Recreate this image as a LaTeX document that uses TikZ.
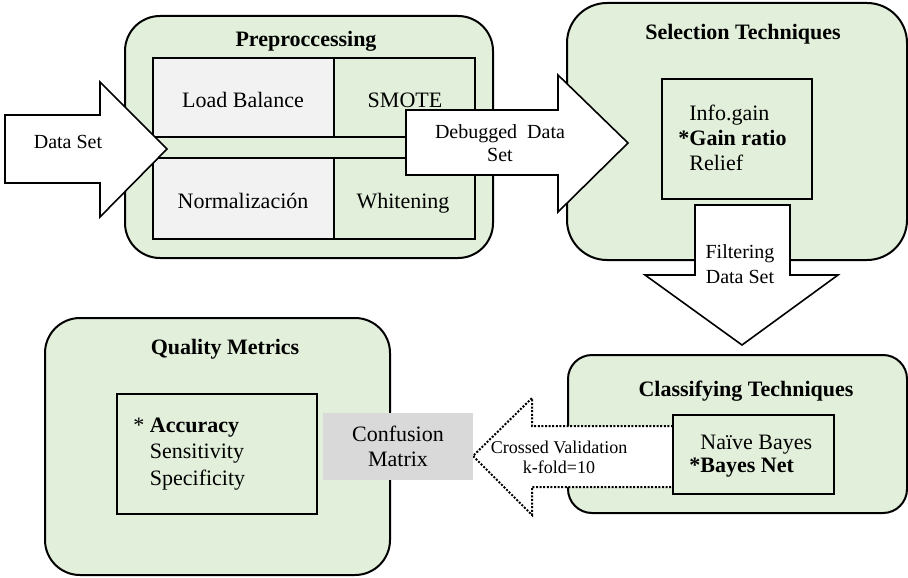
\documentclass[tikz,border=0pt]{standalone}
\usepackage{fontspec}
\setmainfont{Liberation Serif}
\definecolor{panelgreen}{HTML}{E2EFDA}
\definecolor{cellgray}{HTML}{F2F2F2}
\definecolor{matrixgray}{HTML}{D9D9D9}
\tikzset{
	panel/.style={draw,line width=1pt,fill=panelgreen},
	innerbox/.style={draw,line width=0.6pt,fill=panelgreen},
	blockarrow/.style={draw,line width=0.8pt,fill=white,line join=miter},
	paneltitle/.style={font=\fontsize{11}{13}\selectfont\bfseries,text height=7.5pt,text depth=2.5pt},
	celltext/.style={font=\fontsize{11}{13}\selectfont,text height=7.5pt,text depth=2.5pt},
	listtext/.style={anchor=west,align=left,inner sep=0pt},
	arrowtext/.style={font=\fontsize{10}{11.5}\selectfont,align=center}
}
\begin{document}
\begin{tikzpicture}[x=0.5pt,y=-0.5pt]
	\useasboundingbox (0,0) rectangle (908,577);

	\draw [panel,rounded corners=17.5pt] (125,16) rectangle (493,258);
	\fill [cellgray] (153,58) rectangle (334,137);
	\fill [cellgray] (153,158) rectangle (334,239);
	\draw [line width=0.6pt] (153,58) rectangle (475,239);
	\draw [line width=0.6pt] (153,137) -- (475,137);
	\draw [line width=0.6pt] (153,158) -- (475,158);
	\draw [line width=0.6pt] (334,58) -- (334,137);
	\draw [line width=0.6pt] (334,158) -- (334,239);
	\node (pretitle) [paneltitle] at (306,42) {Preproccessing};
	\begin{scope}[every node/.style={celltext}]
	\node (load) at (243,103) {Load Balance};
	\node (smote) at (405,103) {SMOTE};
	\node (norm) at (243,203) {Normalización};
	\node (whiten) at (403,203) {Whitening};
	\end{scope}

	\draw [blockarrow] (5,115) -- (100,115) -- (100,82) -- (167,149) -- (100,217) -- (100,183) -- (5,183) -- cycle;
	\node (dataset) [arrowtext] at (68,142) {Data Set};

	\draw [panel,rounded corners=20pt] (567,3) rectangle (907,260);
	\draw [innerbox] (662,79) rectangle (812,199);
	\node (seltitle) [paneltitle] at (743,35) {Selection Techniques};
	\node (selitems) [listtext,font=\fontsize{11}{12.5}\selectfont] at (678,138)
		{\phantom{\textbf{*}}Info.gain\\\textbf{*Gain ratio}\\\phantom{\textbf{*}}Relief};

	\draw [blockarrow] (406,110) -- (558,110) -- (558,75) -- (628,143) -- (558,212) -- (558,175) -- (406,175) -- cycle;
	\node (debugged) [arrowtext] at (500,143) {Debugged\ \ Data\\Set};

	\draw [blockarrow] (695,205) -- (790,205) -- (790,275) -- (838,275) -- (742,345) -- (645,275) -- (695,275) -- cycle;
	\node (filtering) [arrowtext,font=\fontsize{10}{12.5}\selectfont] at (740,264) {Filtering\\Data Set};

	\draw [panel,rounded corners=12pt] (568,355) rectangle (907,513);
	\node (clatitle) [paneltitle] at (746,391) {Classifying Techniques};
	\draw [blockarrow,line width=1pt,dash pattern=on 1pt off 0.8pt] (673,426) -- (532,426) -- (532,398) -- (473,456) -- (532,515) -- (532,487) -- (673,487) -- cycle;
	\node (crossed) [arrowtext,font=\fontsize{9}{10}\selectfont] at (559,457) {Crossed Validation\\k-fold=10};
	\draw [innerbox] (673,415) rectangle (834,494);
	\node (claitems) [listtext,font=\fontsize{11}{11.5}\selectfont] at (689,456)
		{\hspace{5.5pt}Naïve Bayes\\\textbf{*Bayes Net}};

	\draw [panel,rounded corners=17.5pt] (45,318) rectangle (390,575);
	\draw [innerbox] (117,394) rectangle (317,514);
	\node (qualtitle) [paneltitle] at (225,349) {Quality Metrics};
	\node (qualitems) [listtext,font=\fontsize{11}{13.25}\selectfont] at (133,454)
		{* \textbf{Accuracy}\\\phantom{* }Sensitivity\\\phantom{* }Specificity};

	\node (matrix) [fill=matrixgray,font=\fontsize{11}{12.5}\selectfont,align=center,minimum width=75pt,minimum height=33.5pt] at (398,446.5) {Confusion\\Matrix};
\end{tikzpicture}
\end{document}
